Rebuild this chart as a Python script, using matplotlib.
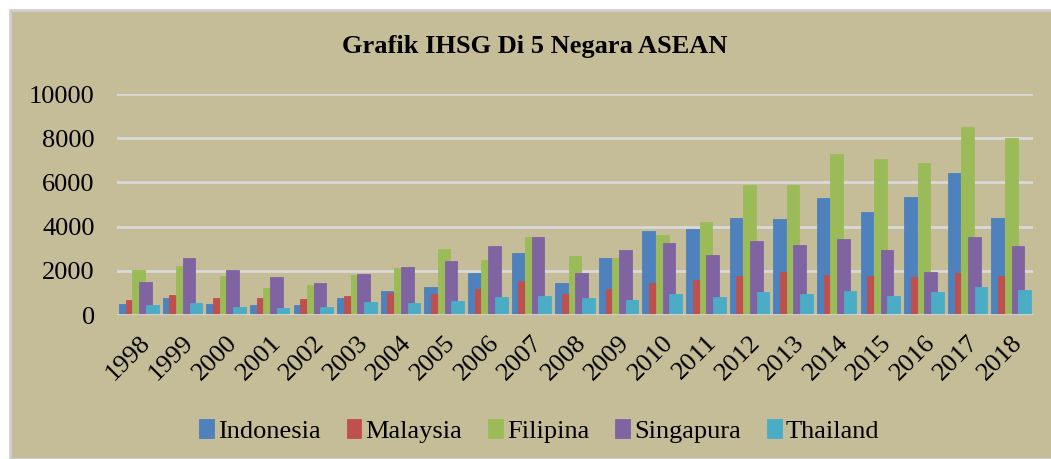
import matplotlib
matplotlib.use("Agg")
import matplotlib.pyplot as plt
import numpy as np

# data
years = [str(y) for y in range(1998, 2019)]
negara = ["Indonesia", "Malaysia", "Filipina", "Singapura", "Thailand"]
indonesia = [480, 760, 500, 450, 450, 770, 1080, 1250, 1880, 2820, 1450, 2600, 3780, 3900,
             4380, 4330, 5300, 4670, 5360, 6430, 4380]
malaysia = [700, 900, 750, 760, 720, 860, 1000, 960, 1170, 1530, 960, 1180, 1460, 1580,
            1750, 1940, 1830, 1780, 1700, 1880, 1750]
filipina = [2050, 2200, 1780, 1200, 1340, 1800, 2120, 2980, 2470, 3530, 2680, 2560, 3640, 4190,
            5900, 5900, 7300, 7040, 6900, 8520, 8030]
singapura = [1500, 2580, 2020, 1720, 1450, 1870, 2150, 2430, 3100, 3530, 1900, 2960, 3270, 2720,
             3330, 3190, 3450, 2950, 1940, 3550, 3130]
thailand = [450, 550, 380, 300, 340, 600, 560, 620, 800, 860, 750, 680, 940, 820,
            1060, 960, 1070, 880, 1050, 1250, 1140]
series = [indonesia, malaysia, filipina, singapura, thailand]
warna = ["#4F81BD", "#C0504D", "#9BBB59", "#8064A2", "#4BACC6"]

plt.rcParams['font.family'] = ['Liberation Serif', 'DejaVu Serif']

fig = plt.figure(figsize=(10.51, 4.59), dpi=100, facecolor="white")
# beige chart area with thin grey frame
bg = plt.Rectangle((10 / 1051, 0), 1.0, 1 - 10 / 459, transform=fig.transFigure,
                   facecolor="#C4BD97", edgecolor="#D0D0D0", linewidth=2, zorder=-5)
fig.patches.append(bg)

ax = fig.add_axes([117 / 1051, 1 - 315 / 459, 916 / 1051, 221 / 459])
ax.set_facecolor("none")
ax.set_zorder(2)

x = np.arange(len(years))
lebar = 0.29
langkah = 0.154
for k, (nama, nilai, c) in enumerate(zip(negara, series, warna)):
    ax.bar(x + (k - 2) * langkah, nilai, width=lebar, color=c, label=nama,
           edgecolor=c, linewidth=0.6, zorder=3 + k)

ax.set_xlim(-0.5, len(years) - 0.5)
ax.set_ylim(0, 10000)
ax.set_yticks(range(0, 10001, 2000))
ax.yaxis.grid(True, color="#D9D9D9", linewidth=2)
ax.set_axisbelow(True)
for s in ax.spines.values():
    s.set_visible(False)
ax.axhline(0, color="#D9D9D9", linewidth=2, zorder=10)
ax.tick_params(axis="both", length=0, labelsize=19)
ax.tick_params(axis="y", pad=16)
ax.set_xticks(x)
ax.set_xticklabels(years, rotation=45, ha="right", va="top", rotation_mode="anchor")
ax.tick_params(axis="x", pad=12)

fig.text(0.509, 1 - 46 / 459, "Grafik IHSG Di 5 Negara ASEAN", ha="center", va="center",
         fontsize=19, fontweight="bold")

leg = fig.legend(loc="center", bbox_to_anchor=(0.513, 1 - 431 / 459), ncol=5, frameon=False,
                 fontsize=19, handlelength=0.55, handleheight=0.7, handletextpad=0.15,
                 columnspacing=1.0)

fig.savefig("out.png", dpi=100, facecolor="white")
